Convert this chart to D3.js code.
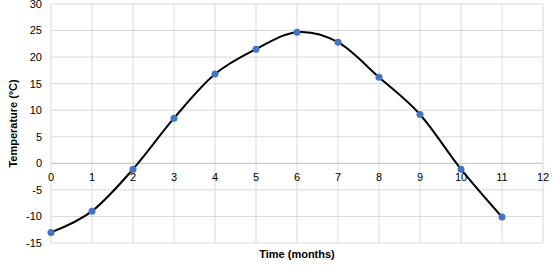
<!DOCTYPE html>
<meta charset="utf-8">
<script src="https://d3js.org/d3.v7.min.js"></script>
<style>
  body { margin: 0; background: #fff; }
  text { font-family: "Liberation Sans", Arial, sans-serif; }
</style>
<div id="chart"></div>
<script>

// data
var months = [0, 1, 2, 3, 4, 5, 6, 7, 8, 9, 10, 11];
var temps = [-13, -9, -1.1, 8.5, 16.8, 21.5, 24.7, 22.8, 16.2, 9.2, -1.1, -10.1];
var xTicks = [0, 1, 2, 3, 4, 5, 6, 7, 8, 9, 10, 11, 12];
var yTicks = [-15, -10, -5, 0, 5, 10, 15, 20, 25, 30];

var W = 552, H = 267;
var margin = {top: 4, right: 9, bottom: 24, left: 51},
    width = W - margin.left - margin.right,
    height = H - margin.top - margin.bottom;

var svg = d3.select("#chart")
  .append("svg")
    .attr("width", W)
    .attr("height", H)
  .append("g")
    .attr("transform", "translate(" + margin.left + "," + margin.top + ")");

var x = d3.scaleLinear().domain([0, 12]).range([0, width]);
var y = d3.scaleLinear().domain([-15, 30]).range([height, 0]);

// gridlines
svg.append("g").selectAll("line")
  .data(xTicks)
  .enter().append("line")
    .attr("x1", d => x(d)).attr("x2", d => x(d))
    .attr("y1", 0).attr("y2", height)
    .attr("stroke", "#d9d9d9").attr("stroke-width", 1);

svg.append("g").selectAll("line")
  .data(yTicks)
  .enter().append("line")
    .attr("x1", 0).attr("x2", width)
    .attr("y1", d => y(d)).attr("y2", d => y(d))
    .attr("stroke", d => d === 0 ? "#bfbfbf" : "#d9d9d9").attr("stroke-width", 1);

// y tick labels
svg.append("g").selectAll("text")
  .data(yTicks)
  .enter().append("text")
    .attr("x", -9)
    .attr("y", d => y(d))
    .attr("dy", "0.35em")
    .attr("text-anchor", "end")
    .style("font-size", "11px")
    .attr("fill", "#000")
    .text(d => d);

// x tick labels, sitting under the zero line
svg.append("g").selectAll("text")
  .data(xTicks)
  .enter().append("text")
    .attr("x", d => x(d))
    .attr("y", y(0) + 14)
    .attr("dy", "0.35em")
    .attr("text-anchor", "middle")
    .style("font-size", "11px")
    .attr("fill", "#000")
    .text(d => d);

// axis titles
svg.append("text")
  .attr("x", x(6))
  .attr("y", height + 15)
  .attr("text-anchor", "middle")
  .style("font-size", "11px")
  .style("font-weight", "bold")
  .text("Time (months)");

svg.append("text")
  .attr("transform", "translate(" + (-34) + "," + (height / 2) + ") rotate(-90)")
  .attr("text-anchor", "middle")
  .style("font-size", "11px")
  .style("font-weight", "bold")
  .text("Temperature (ºC)");

// smoothed line
var line = d3.line()
  .x((d, i) => x(months[i]))
  .y(d => y(d))
  .curve(d3.curveCardinal.tension(0));

svg.append("path")
  .datum(temps)
  .attr("d", line)
  .attr("fill", "none")
  .attr("stroke", "#000")
  .attr("stroke-width", 2);

// markers
svg.append("g").selectAll("circle")
  .data(temps)
  .enter().append("circle")
    .attr("cx", (d, i) => x(months[i]))
    .attr("cy", d => y(d))
    .attr("r", 3.5)
    .attr("fill", "#4472c4");

</script>
